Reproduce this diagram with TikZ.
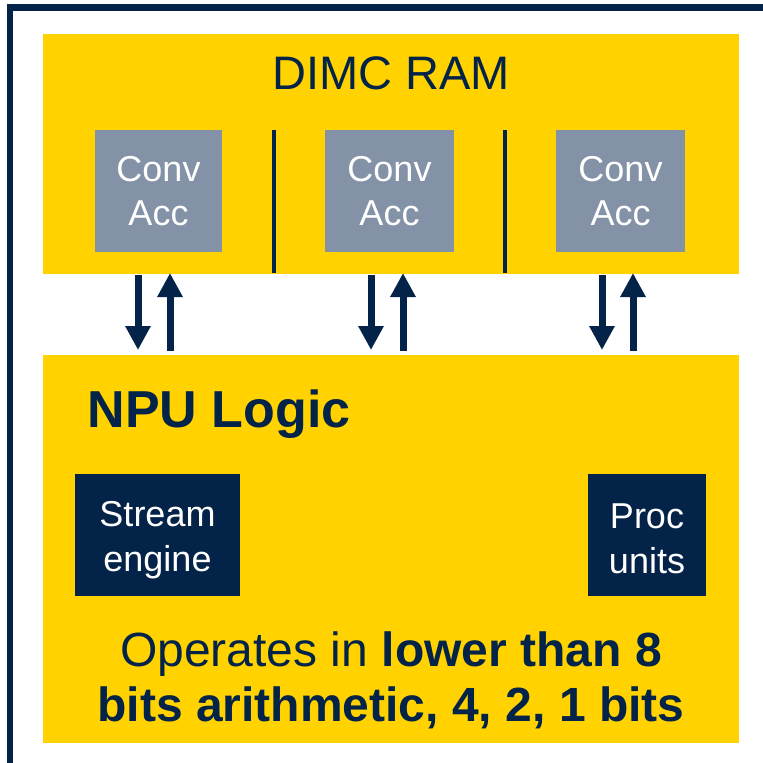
\documentclass[tikz,border=0pt]{standalone}
\usepackage{fontspec}
\setmainfont{Liberation Sans}
\usetikzlibrary{arrows.meta}
\definecolor{stY}{RGB}{255,210,0}
\definecolor{stNavy}{RGB}{3,35,72}
\definecolor{stGrey}{RGB}{131,146,166}
\tikzset{
  panel/.style={fill=stY,draw=none,inner sep=0pt,minimum width=696pt},
  accbox/.style={fill=stGrey,draw=none,inner sep=0pt,minimum height=122pt,text=white,align=center,font=\fontsize{36}{44}\selectfont},
  darkbox/.style={fill=stNavy,draw=none,inner sep=0pt,minimum height=122pt},
  darktext/.style={text=white,align=center,inner sep=0pt,font=\fontsize{36}{45}\selectfont},
  flow/.style={draw=stNavy,line width=7pt,-{Triangle[width=24pt,length=24pt]}},
  divider/.style={draw=stNavy,line width=4pt},
}
\begin{document}
\begin{tikzpicture}[x=1pt,y=-1pt]
\useasboundingbox (0,0) rectangle (763,763);
% outer frame (left and top edges visible)
\draw[stNavy,line width=6.5pt] (10,763) -- (10,7.5) -- (763,7.5);
% panels
\node[panel,minimum height=240pt] (ram) at (391,154) {};
\node[panel,minimum height=388pt] (npu) at (391,549) {};
\node[text=stNavy,font=\fontsize{47}{54}\selectfont] (ramtitle) at (391,73) {DIMC RAM};
% conv accelerators
\node[accbox,minimum width=127pt] (c1) at (158.5,191) {Conv\\Acc};
\node[accbox,minimum width=129pt] (c2) at (389.5,191) {Conv\\Acc};
\node[accbox,minimum width=129pt] (c3) at (620.5,191) {Conv\\Acc};
% dividers
\coordinate (d1t) at (274,130); \coordinate (d1b) at (274,273);
\coordinate (d2t) at (505,130); \coordinate (d2b) at (505,273);
\draw[divider] (d1t) -- (d1b);
\draw[divider] (d2t) -- (d2b);
% NPU logic
\node[anchor=base west,text=stNavy,font=\fontsize{52}{60}\selectfont\bfseries] (npulabel) at (84,427) {NPU Logic};
\node[darkbox,minimum width=165pt] (stream) at (157.5,535) {};
\node[darktext] (streamtext) at ([yshift=-5pt]stream.center) {Stream\\engine};
\node[darkbox,minimum width=118pt] (proc) at (647,535) {};
\node[darktext] (proctext) at ([yshift=-4pt]proc.center) {Proc\\units};
\node[anchor=base,text=stNavy,font=\fontsize{48}{55}\selectfont] (op1) at (391,666) {Operates in \textbf{lower than 8}};
\node[anchor=base,text=stNavy,font=\fontsize{48}{55}\selectfont\bfseries] (op2) at (391,721) {bits arithmetic, 4, 2, 1 bits};
% arrows between RAM and NPU
\foreach \i/\xd/\xu in {1/138/170,2/371/403,3/602/633}{
  \coordinate (dn\i) at (\xd,275); \coordinate (dn\i e) at (\xd,350);
  \coordinate (up\i) at (\xu,351); \coordinate (up\i e) at (\xu,273);
  \draw[flow] (dn\i) -- (dn\i e);
  \draw[flow] (up\i) -- (up\i e);
}
\end{tikzpicture}
\end{document}
